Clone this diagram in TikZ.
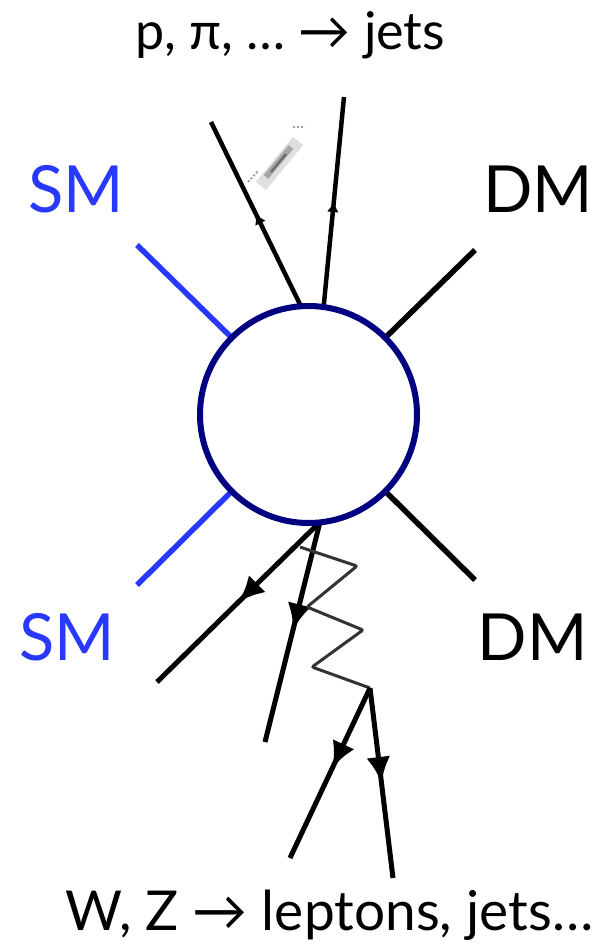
\documentclass[tikz,border=0pt]{standalone}
\usepackage{fontspec}
\setmainfont{Lato}
\usetikzlibrary{arrows.meta,decorations.markings}
\definecolor{SMClr}{rgb}{0.16,0.22,1}
\definecolor{BlobClr}{rgb}{0,0,0.5}

\begin{document}
\begin{tikzpicture}[x=1pt,y=-1pt,
  leg/.style={line width=5.5pt},
  smleg/.style={leg,color=SMClr},
  prop/.style={line width=4.5pt,postaction={decorate},
    decoration={markings,mark=at position #1 with {\arrow{Latex[length=10pt,width=12pt]}}}},
  bigprop/.style={line width=5pt,postaction={decorate},
    decoration={markings,mark=at position #1 with {\arrow{Latex[length=26pt,width=24pt]}}}},
  boson/.style={line width=3pt,black!80,rounded corners=2pt},
  lbl/.style={font=\fontsize{65}{70}\selectfont,anchor=base},
  capt/.style={font=\fontsize{52}{60}\selectfont}]
\useasboundingbox (0,0) rectangle (592,944);

\node[circle,minimum size=217pt,inner sep=0pt,outer sep=0pt] (O) at (308.5,414.5) {};

\coordinate (S1) at (137,245);
\coordinate (S2) at (137,585);
\coordinate (D1) at (475,250);
\coordinate (D2) at (475,580);
\coordinate (J1) at (211,122);
\coordinate (J2) at (344,97);
\coordinate (V) at (320,522);
\coordinate (Q1) at (157,682);
\coordinate (Q2) at (265,742);
\coordinate (W0) at (300,547);
\coordinate (W) at (370,688);
\coordinate (L1) at (290,858);
\coordinate (L2) at (393,878);

\draw[smleg] (O.135) -- (S1);
\draw[smleg] (O.-135) -- (S2);
\draw[leg] (O.45) -- (D1);
\draw[leg] (O.-45) -- (D2);

\draw[prop=0.5] (O.94.5) -- (J1);
\draw[prop=0.5] (O.82.4) -- (J2);

\draw[line width=13pt,gray!25] (261,186) -- (298,141);
\draw[line width=6pt,gray!70] (266,177) -- (291,147);
\draw[line width=2pt,black!60] (271,172) -- (286,154);
\draw[line width=2pt,gray!75,dotted] (248,182) -- (258,171);
\draw[line width=2pt,gray!75,dotted] (293,127) -- (305,127);

\draw[bigprop=0.5] (V) -- (Q1);
\draw[bigprop=0.49] (V) -- (Q2);
\draw[boson] (W0) -- (357,566) -- (307,607) -- (363,630) -- (312,667) -- (W);
\draw[bigprop=0.47] (W) -- (L1);
\draw[bigprop=0.5] (W) -- (L2);

\draw[line width=6pt,BlobClr,fill=white] (O.center) circle (108.5);

\node[lbl,SMClr] (sm1) at (76,212) {SM};
\node[lbl,SMClr] (sm2) at (67.5,660) {SM};
\node[lbl] (dm1) at (538,212) {DM};
\node[lbl] (dm2) at (532.5,660) {DM};
\node[capt,anchor=base] (jets) at (290,50) {p, π, … → jets};
\node[capt,anchor=base west,inner sep=0pt,font=\fontsize{55}{60}\selectfont] (lept) at (65,930) {W, Z → leptons, jets…};
\end{tikzpicture}
\end{document}
